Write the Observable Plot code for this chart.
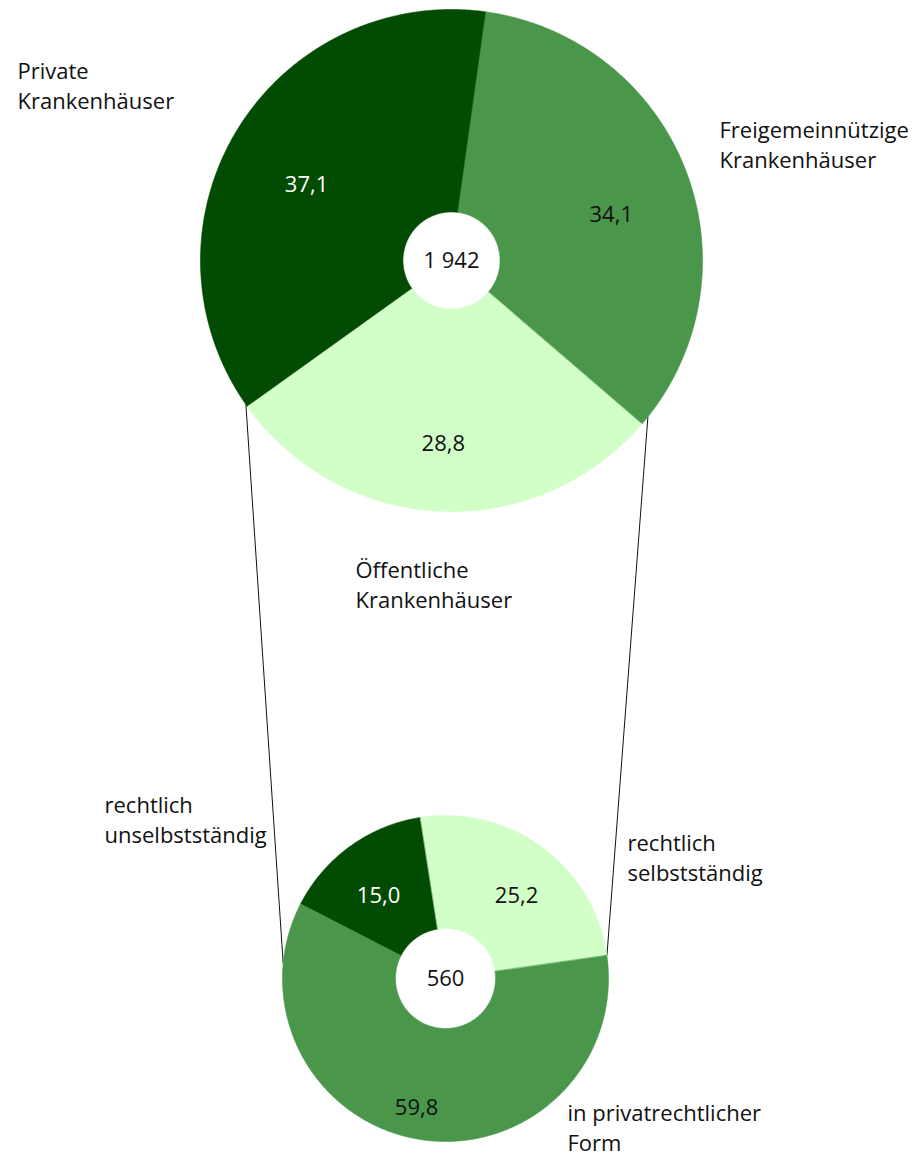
<!DOCTYPE html>
<html>
<head>
<meta charset="utf-8">
<script src="https://cdn.jsdelivr.net/npm/d3@7"></script>
<script src="https://cdn.jsdelivr.net/npm/@observablehq/plot@0.6"></script>
<style>
  html, body { margin: 0; padding: 0; background: #ffffff; overflow: hidden; }
  #chart svg { display: block; }
</style>
</head>
<body>
<div id="chart"></div>
<script>
// ---------- data ----------
const topCategories = ["Private\nKrankenhäuser", "Freigemeinnützige\nKrankenhäuser", "Öffentliche\nKrankenhäuser"];
const topShares = [37.1, 34.1, 28.8];
const topTotal = 1942;

const bottomCategories = ["rechtlich\nunselbstständig", "rechtlich\nselbstständig", "in privatrechtlicher\nForm"];
const bottomShares = [15.0, 25.2, 59.8];
const bottomTotal = 560;

// ---------- layout & style ----------
const W = 915, H = 1155;
const FONT = "Open Sans";
const FS = 22;
const colors = { dark: "#024b02", mid: "#4a964a", light: "#d2ffc8" };
const pies = [
  { categories: topCategories, shares: topShares, total: topTotal,
    cx: 451, cy: 260, r: 251, inner: 48.5, start: 234.4,
    fills: [colors.dark, colors.mid, colors.light],
    valueInk: ["#ffffff", "#111111", "#111111"],
    labelR: [0.652, 0.662, 0.73],
    labelTurn: [-3.5, 4.7, 0],
    nameAt: [[17, 57], [719, 116], [355, 556]] },
  { categories: bottomCategories, shares: bottomShares, total: bottomTotal,
    cx: 445, cy: 978, r: 163, inner: 50, start: 297.2,
    fills: [colors.dark, colors.light, colors.mid],
    valueInk: ["#ffffff", "#111111", "#111111"],
    labelR: [0.65, 0.666, 0.811],
    labelTurn: [-3.4, 4.3, 3.1],
    nameAt: [[104, 791], [627, 829], [567, 1099]] }
];
// connector lines: [top pie angle, bottom pie angle]
const connectors = [[235.0, 275.3], [128.5, 82.0]];

// ---------- helpers ----------
const rad = d => d * Math.PI / 180;
const pt = (p, R, deg) => ({ x: p.cx + R * Math.sin(rad(deg)), y: p.cy - R * Math.cos(rad(deg)) });
const fmtShare = v => d3.format(".1f")(v).replace(".", ",");
const fmtTotal = v => d3.format(",")(v).replace(/,/g, " ");

const marks = [];

// connectors (beneath pies)
const links = connectors.map(([a, b]) => {
  const p1 = pt(pies[0], pies[0].r, a), p2 = pt(pies[1], pies[1].r, b);
  return { x1: p1.x, y1: p1.y, x2: p2.x, y2: p2.y };
});
marks.push(Plot.link(links, { x1: "x1", y1: "y1", x2: "x2", y2: "y2", stroke: "#111", strokeWidth: 1 }));

const valueLabels = [], nameLabels = [], totalLabels = [];

pies.forEach((p, pi) => {
  let a = p.start;
  p.shares.forEach((s, i) => {
    const a0 = a, a1 = a + s / 100 * 360;
    a = a1;
    const n = Math.max(8, Math.ceil((a1 - a0) / 0.5));
    const pts = [];
    for (let k = 0; k <= n; k++) pts.push(pt(p, p.r, a0 + (a1 - a0) * k / n));
    for (let k = n; k >= 0; k--) pts.push(pt(p, p.inner, a0 + (a1 - a0) * k / n));
    marks.push(Plot.line(pts, { x: "x", y: "y", fill: p.fills[i], stroke: p.fills[i], strokeWidth: 0.6, curve: "linear-closed" }));
    const mid = (a0 + a1) / 2 + p.labelTurn[i];
    const lp = pt(p, p.r * p.labelR[i], mid);
    valueLabels.push({ x: lp.x, y: lp.y, text: fmtShare(s), ink: p.valueInk[i] });
    nameLabels.push({ x: p.nameAt[i][0], y: p.nameAt[i][1], text: p.categories[i] });
  });
  totalLabels.push({ x: p.cx, y: p.cy, text: fmtTotal(p.total) });
});

marks.push(Plot.text(valueLabels, { x: "x", y: "y", text: "text", fill: "ink", fontSize: FS, fontFamily: FONT, lineAnchor: "middle", textAnchor: "middle" }));
marks.push(Plot.text(totalLabels, { x: "x", y: "y", text: "text", fill: "#111", fontSize: FS, fontFamily: FONT, lineAnchor: "middle", textAnchor: "middle" }));
marks.push(Plot.text(nameLabels, { x: "x", y: "y", text: "text", fill: "#111", fontSize: FS, fontFamily: FONT, lineAnchor: "top", textAnchor: "start", lineHeight: 30 / FS }));

const chart = Plot.plot({
  width: W,
  height: H,
  margin: 0,
  x: { domain: [0, W], range: [0, W], axis: null },
  y: { domain: [0, H], range: [0, H], axis: null },
  color: { type: "identity" },
  style: { background: "#ffffff", fontFamily: FONT, fontSize: FS + "px", overflow: "visible" },
  marks
});
document.getElementById("chart").appendChild(chart);
</script>
</body>
</html>
